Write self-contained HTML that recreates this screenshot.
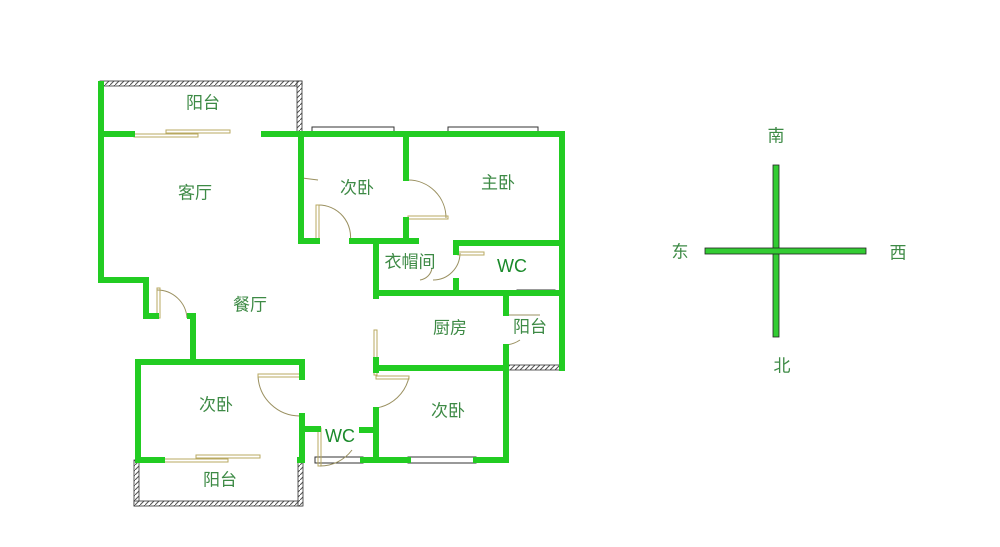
<!DOCTYPE html>
<html><head><meta charset="utf-8"><style>
html,body{margin:0;padding:0;background:#fff;width:1000px;height:547px;overflow:hidden}
text{font-family:"Liberation Sans","Noto Sans CJK SC",sans-serif;fill:#3d8a45;font-size:17px;text-anchor:middle;dominant-baseline:middle}
</style></head><body>
<svg width="1000" height="547" viewBox="0 0 1000 547" xmlns="http://www.w3.org/2000/svg">
<defs>
<pattern id="h" width="5" height="5" patternUnits="userSpaceOnUse"><rect width="5" height="5" fill="#fff"/><path d="M0 5L5 0" stroke="#555" stroke-width="1"/></pattern>
</defs>
<g fill="url(#h)" stroke="#333" stroke-width="0.8">
<rect x="100" y="81" width="202" height="5"/>
<rect x="297" y="81" width="5" height="52"/>
<rect x="134" y="460" width="5" height="46"/>
<rect x="134" y="501" width="168" height="5"/>
<rect x="298" y="460" width="5" height="46"/>
<rect x="506" y="365" width="58" height="5"/>
</g>
<g fill="#fff" stroke="#333" stroke-width="1">
<rect x="312" y="127" width="82" height="6"/>
<rect x="448" y="127" width="90" height="6"/>
<rect x="408" y="457" width="68" height="6"/>
<rect x="315" y="457" width="48" height="6"/>
<rect x="517" y="290" width="38" height="4"/>
</g>
<g fill="#fff" stroke="#b8a860" stroke-width="1">
<rect x="134" y="134" width="64" height="3"/>
<rect x="166" y="130" width="64" height="3"/>
<rect x="164" y="459" width="64" height="3"/>
<rect x="196" y="455" width="64" height="3"/>
</g>
<g fill="none" stroke="#9a9060" stroke-width="1">
<path d="M318 205 A32 32 0 0 1 350 243"/>
<rect x="316" y="205" width="3" height="38" stroke="#b8a860"/>
<path d="M408 180 A38 38 0 0 1 446 218"/>
<rect x="408" y="216" width="40" height="3" stroke="#b8a860"/>
<path d="M460 253 A27 27 0 0 1 433 280"/>
<rect x="458" y="252" width="26" height="3" stroke="#b8a860"/>
<path d="M420 280 A14 14 0 0 0 432 268"/>
<path d="M157 290 A30 30 0 0 1 187 318"/>
<rect x="157" y="288" width="3" height="30" stroke="#b8a860"/>
<path d="M258 376 A42 42 0 0 0 300 416"/>
<rect x="258" y="374" width="42" height="3" stroke="#b8a860"/>
<path d="M409 377 A40 40 0 0 1 376 408"/>
<rect x="376" y="376" width="33" height="3" stroke="#b8a860"/>
<rect x="374" y="330" width="3" height="45" stroke="#b8a860"/>
<rect x="318" y="428" width="3" height="38" stroke="#b8a860"/>
<path d="M320 466 A40 40 0 0 0 352 450"/>
<path d="M506 315 L540 315 M506 345 A30 30 0 0 0 520 340"/>
<path d="M302 178 L318 180"/>
</g>
<g fill="none" stroke="#2c2" stroke-width="6" stroke-linecap="square" stroke-linejoin="miter">
<path d="M101 84 V280 H146 V316 H156"/>
<path d="M190 316 H193 V362 H302 V377"/>
<path d="M138 362 H193"/>
<path d="M302 416 V460 H300"/>
<path d="M302 429 H318"/>
<path d="M138 363 V460 H162"/>
<path d="M101 134 H132"/>
<path d="M264 134 H562 V368"/>
<path d="M301 134 V241 H317"/>
<path d="M352 241 H416"/>
<path d="M406 134 V178"/>
<path d="M406 220 V241"/>
<path d="M456 252 V243 H562"/>
<path d="M456 281 V292"/>
<path d="M376 243 V296"/>
<path d="M376 293 H562"/>
<path d="M506 293 V313"/>
<path d="M506 347 V368"/>
<path d="M376 368 H506 V460"/>
<path d="M376 360 V370"/>
<path d="M376 410 V460"/>
<path d="M362 430 H376"/>
<path d="M363 460 H408"/>
<path d="M476 460 H506"/>
</g>
<rect x="773" y="165" width="6" height="172" fill="#3c3" stroke="#222" stroke-width="0.8"/>
<rect x="705" y="248" width="161" height="6" fill="#3c3" stroke="#222" stroke-width="0.8"/>
<rect x="773.5" y="248.5" width="5" height="5" fill="#3c3"/>
<text x="776" y="137">南</text>
<text x="680" y="253">东</text>
<text x="898" y="254">西</text>
<text x="782" y="367">北</text>
<text x="203" y="104">阳台</text>
<text x="195" y="194">客厅</text>
<text x="357" y="189">次卧</text>
<text x="498" y="184">主卧</text>
<text x="410" y="263">衣帽间</text>
<text x="512" y="267" style="font-size:18px;fill:#1a8a2a">WC</text>
<text x="250" y="306">餐厅</text>
<text x="450" y="329">厨房</text>
<text x="530" y="328">阳台</text>
<text x="216" y="406">次卧</text>
<text x="448" y="412">次卧</text>
<text x="340" y="437" style="font-size:18px;fill:#1a8a2a">WC</text>
<text x="220" y="481">阳台</text>
</svg>
</body></html>
